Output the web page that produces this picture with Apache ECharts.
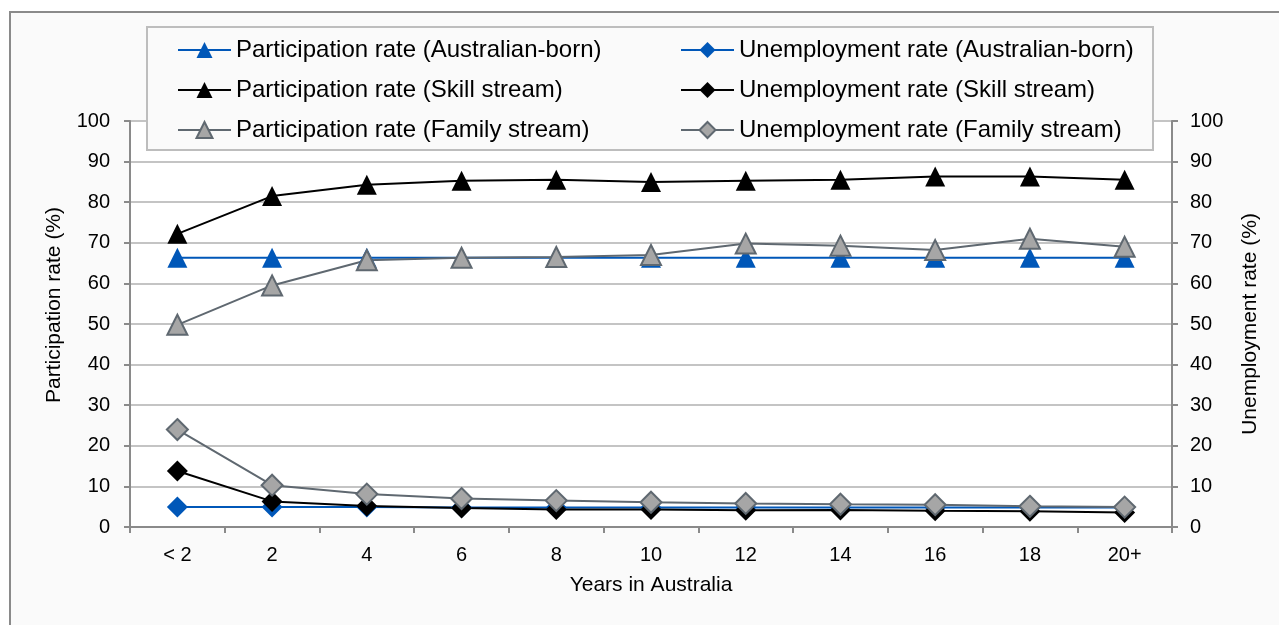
<!DOCTYPE html>
<html>
<head>
<meta charset="utf-8">
<script src="https://cdn.jsdelivr.net/npm/echarts@6/dist/echarts.min.js"></script>
<style>
  html, body { margin: 0; padding: 0; background: #fff; }
  #chart { width: 1279px; height: 625px; }
</style>
</head>
<body>
<div id="chart"></div>
<script>
var years = ['< 2', '2', '4', '6', '8', '10', '12', '14', '16', '18', '20+'];

var partAus    = [66.3, 66.3, 66.3, 66.3, 66.3, 66.3, 66.3, 66.3, 66.3, 66.3, 66.3];
var partSkill  = [72.2, 81.5, 84.3, 85.3, 85.5, 85.0, 85.3, 85.5, 86.3, 86.3, 85.5];
var partFamily = [49.8, 59.5, 65.7, 66.3, 66.5, 67.0, 69.8, 69.3, 68.2, 71.0, 69.0];

var unempAus    = [4.9, 4.9, 4.9, 4.8, 4.8, 4.8, 4.8, 4.8, 4.8, 4.8, 4.8];
var unempSkill  = [13.8, 6.3, 5.2, 4.7, 4.3, 4.3, 4.1, 4.2, 4.0, 3.9, 3.6];
var unempFamily = [24.0, 10.3, 8.1, 7.0, 6.5, 6.1, 5.8, 5.6, 5.5, 5.1, 4.9];

var yTicks = [0, 10, 20, 30, 40, 50, 60, 70, 80, 90, 100];

var blue = '#0057b8';
var greyFill = '#a6a6a6';
var greyLine = '#5f6870';
var font = 'Liberation Sans, Arial, sans-serif';

var chart = echarts.init(document.getElementById('chart'));

function makeSeries(name, data, axis, symbol, color, fill, border, size) {
  return {
    name: name,
    type: 'line',
    yAxisIndex: axis,
    data: data,
    symbol: symbol,
    symbolSize: size,
    lineStyle: { color: color, width: 2 },
    itemStyle: { color: fill, borderColor: border, borderWidth: fill == border ? 0 : 2 },
    emphasis: { disabled: true },
    animation: false
  };
}

var legendText = { fontFamily: font, fontSize: 24, color: '#000' };
var tickText = { fontFamily: font, fontSize: 20, color: '#000' };
var nameText = { fontFamily: font, fontSize: 21, color: '#000' };

var option = {
  backgroundColor: '#fff',
  graphic: [
    {
      type: 'rect', z: -10,
      shape: { x: 10, y: 12, width: 1300, height: 700 },
      style: { fill: '#fafafa', stroke: '#8a8a8a', lineWidth: 2 }
    },
    {
      type: 'rect', z: 1,
      shape: { x: 147, y: 27, width: 1006, height: 123 },
      style: { fill: '#fafafa', stroke: '#bdbdbd', lineWidth: 2 }
    }
  ],
  grid: {
    left: 130, right: 107, top: 121, bottom: 98,
    show: true, backgroundColor: '#fff', borderWidth: 0
  },
  legend: [
    {
      orient: 'vertical', left: 172, top: 33, itemGap: 16,
      itemWidth: 53, itemHeight: 20,
      textStyle: legendText,
      data: ['Participation rate (Australian-born)', 'Participation rate (Skill stream)', 'Participation rate (Family stream)']
    },
    {
      orient: 'vertical', left: 675, top: 33, itemGap: 16,
      itemWidth: 53, itemHeight: 20,
      textStyle: legendText,
      data: ['Unemployment rate (Australian-born)', 'Unemployment rate (Skill stream)', 'Unemployment rate (Family stream)']
    }
  ],
  xAxis: {
    type: 'category',
    data: years,
    boundaryGap: true,
    name: 'Years in Australia',
    nameLocation: 'middle',
    nameGap: 48,
    nameTextStyle: nameText,
    axisLine: { lineStyle: { color: '#8a8a8a', width: 2 } },
    axisTick: { show: true, length: 6, lineStyle: { color: '#8a8a8a', width: 2 } },
    axisLabel: Object.assign({ margin: 18 }, tickText),
    splitLine: { show: false }
  },
  yAxis: [
    {
      type: 'value', min: 0, max: 100, interval: 10,
      name: 'Participation rate (%)',
      nameLocation: 'middle', nameGap: 65, nameRotate: 90,
      nameTextStyle: Object.assign({ padding: [0, 0, 0, 38] }, nameText),
      axisLine: { show: true, lineStyle: { color: '#8a8a8a', width: 2 } },
      axisTick: { show: true, length: 6, lineStyle: { color: '#8a8a8a', width: 2 } },
      axisLabel: Object.assign({ margin: 20 }, tickText),
      splitLine: { show: true, lineStyle: { color: '#c4c4c4', width: 2 } }
    },
    {
      type: 'value', min: 0, max: 100, interval: 10,
      name: 'Unemployment rate (%)',
      nameLocation: 'middle', nameGap: 68, nameRotate: 90,
      nameTextStyle: nameText,
      axisLine: { show: true, lineStyle: { color: '#8a8a8a', width: 2 } },
      axisTick: { show: true, length: 6, lineStyle: { color: '#8a8a8a', width: 2 } },
      axisLabel: Object.assign({ margin: 18 }, tickText),
      splitLine: { show: false }
    }
  ],
  series: [
    makeSeries('Participation rate (Australian-born)', partAus, 0, 'triangle', blue, blue, blue, 20),
    makeSeries('Unemployment rate (Australian-born)', unempAus, 1, 'diamond', blue, blue, blue, 21),
    makeSeries('Participation rate (Skill stream)', partSkill, 0, 'triangle', '#000', '#000', '#000', 20),
    makeSeries('Unemployment rate (Skill stream)', unempSkill, 1, 'diamond', '#000', '#000', '#000', 21),
    makeSeries('Participation rate (Family stream)', partFamily, 0, 'triangle', greyLine, greyFill, greyLine, 20),
    makeSeries('Unemployment rate (Family stream)', unempFamily, 1, 'diamond', greyLine, greyFill, greyLine, 21)
  ]
};

chart.setOption(option);
</script>
</body>
</html>
